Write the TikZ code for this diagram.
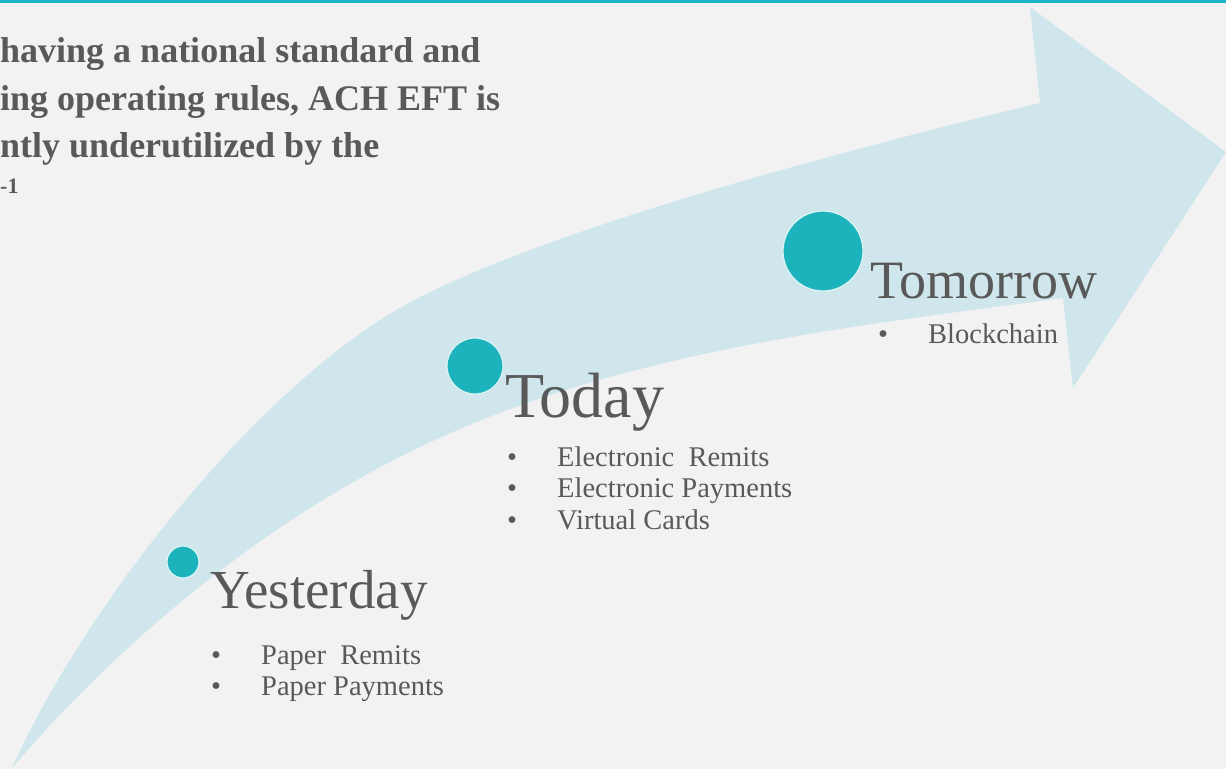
\documentclass[tikz,border=0pt]{standalone}
\usepackage{fontspec}
\setmainfont{Liberation Serif}
\usepackage{xcolor}

\definecolor{pagebg}{HTML}{F2F2F2}
\definecolor{bandblue}{HTML}{CFE7EC}
\definecolor{dotteal}{HTML}{1CB3BD}
\definecolor{ruleteal}{HTML}{19B6C6}
\definecolor{inkgray}{HTML}{595959}

\tikzset{
  milestone/.style={circle, fill=dotteal, draw=white!85!dotteal, line width=1.2pt, inner sep=0pt},
  stage/.style={anchor=base west, inner sep=0pt, text=inkgray},
  claimline/.style={anchor=base west, inner sep=0pt, text=inkgray, font=\bfseries\fontsize{36}{44}\selectfont},
  item/.style={anchor=base west, inner sep=0pt, text=inkgray, font=\fontsize{28.5}{32}\selectfont},
}
\newcommand{\bulletitem}[1]{\makebox[50pt][l]{\textbullet}#1}

\begin{document}
\begin{tikzpicture}[x=1pt, y=-1pt]
        \useasboundingbox (0, 0) rectangle (1226, 769);
        \fill[pagebg] (0, 0) rectangle (1226, 769);
        \fill[ruleteal] (0, 0) rectangle (1226, 2.5);

        % the curved arrow: upper edge, head, lower edge back to the tail
        \fill[bandblue] (12, 768) .. controls (82, 613) and (237, 413) .. (380, 320)
          .. controls (506, 238) and (846, 150) .. (1040, 103)
          -- (1030, 7) -- (1226, 152) -- (1073, 388) -- (1063, 298)
          .. controls (845, 327) and (618, 352) .. (420, 447)
          .. controls (267, 520) and (122, 639) .. (12, 768) -- cycle;

        % heading text
        \node[claimline] (claim1) at (0, 62) {having a national standard and};
        \node[claimline] (claim2) at (0, 110) {ing operating rules, ACH EFT is};
        \node[claimline] (claim3) at (0, 157) {ntly underutilized by the};
        \node[claimline, font=\bfseries\fontsize{22}{26}\selectfont] (claim4) at (0, 193) {-1};

        % milestones
        \node[milestone, minimum size=32pt] (yesterday) at (183, 562) {};
        \node[milestone, minimum size=56pt] (today) at (475, 366) {};
        \node[milestone, minimum size=80pt] (tomorrow) at (823, 251) {};

        \node[stage, font=\fontsize{55}{60}\selectfont] (yesterdaylabel) at (210, 608) {Yesterday};
        \node[stage, font=\fontsize{64}{70}\selectfont] (todaylabel) at (505, 417) {Today};
        \node[stage, font=\fontsize{54}{60}\selectfont] (tomorrowlabel) at (870, 298) {Tomorrow};

        \node[item] (paper1) at (211, 664) {\bulletitem{Paper\ \ Remits}};
        \node[item] (paper2) at (211, 695) {\bulletitem{Paper Payments}};

        \node[item] (elec1) at (507, 466) {\bulletitem{Electronic\ \ Remits}};
        \node[item] (elec2) at (507, 497) {\bulletitem{Electronic Payments}};
        \node[item] (elec3) at (507, 529) {\bulletitem{Virtual Cards}};

        \node[item] (chain) at (878, 343) {\bulletitem{Blockchain}};
\end{tikzpicture}
\end{document}
